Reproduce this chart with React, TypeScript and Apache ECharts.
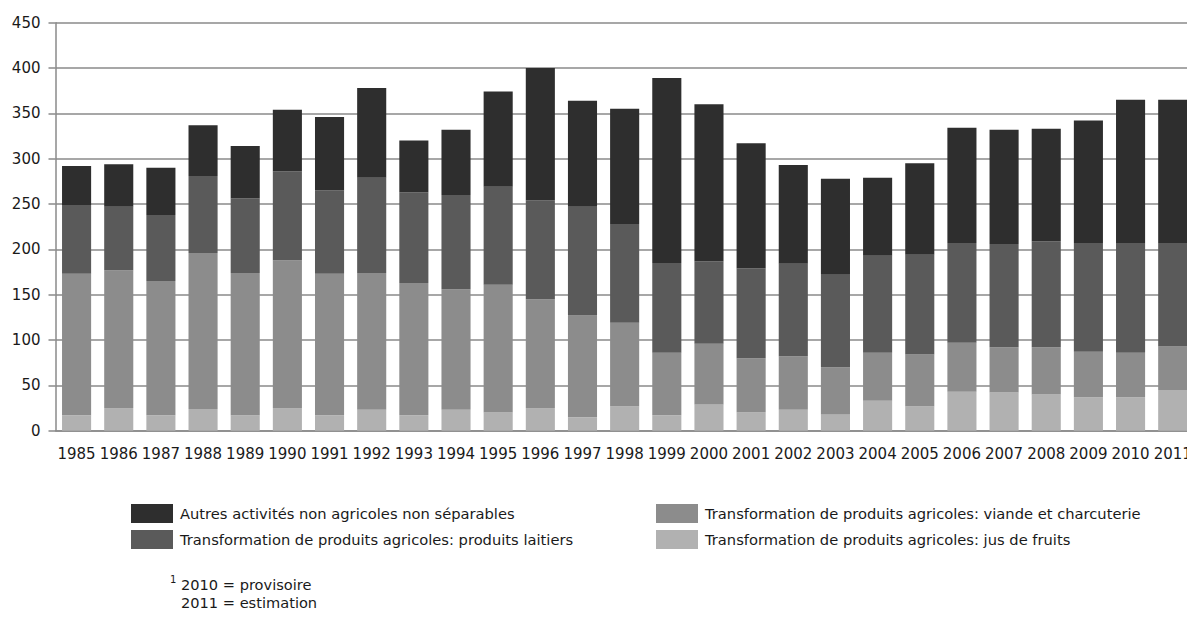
import React, { useEffect, useRef } from "react";
import * as echarts from "echarts";

const years = ["1985","1986","1987","1988","1989","1990","1991","1992","1993","1994","1995","1996","1997","1998","1999","2000","2001","2002","2003","2004","2005","2006","2007","2008","2009","2010","2011"];
const jusDeFruits = [17,25,17,24,17,25,17,23,17,23,20,25,15,27,17,29,20,23,18,33,27,43,42,40,37,37,45];
const viande = [156,152,148,172,157,163,156,151,146,133,141,120,112,92,69,67,60,59,52,53,57,54,50,52,50,49,48];
const laitiers = [76,70,73,85,82,98,92,105,100,104,108,109,120,109,99,91,99,102,102,107,110,110,114,117,120,121,114];
const autres = [43,47,52,56,58,68,81,99,57,72,105,146,117,127,204,173,138,109,106,86,101,127,126,124,135,158,158];

const nameAutres = "Autres activités non agricoles non séparables";
const nameLaitiers = "Transformation de produits agricoles: produits laitiers";
const nameViande = "Transformation de produits agricoles: viande et charcuterie";
const nameJus = "Transformation de produits agricoles: jus de fruits";

const FONT = "DejaVu Sans";

export default function App() {
  const ref = useRef<HTMLDivElement>(null);
  useEffect(() => {
    if (!ref.current) return;
    const chart = echarts.init(ref.current, null, { renderer: "svg" });
    const mk = (name: string, data: number[], color: string) => ({
      name,
      type: "bar",
      stack: "total",
      data,
      barCategoryGap: "31%",
      itemStyle: { color },
      emphasis: { disabled: true },
    });
    const legendBase = {
      top: 504,
      orient: "vertical",
      itemWidth: 42,
      itemHeight: 19,
      itemGap: 7,
      padding: 0,
      icon: "rect",
      selectedMode: false,
      textStyle: { color: "#1a1a1a", fontSize: 14.7, fontFamily: FONT, padding: [0, 0, 0, 2] },
    };
    chart.setOption({
      animation: false,
      textStyle: { fontFamily: FONT },
      grid: { left: 55.5, right: 6.2, top: 22.7, bottom: 186.3, containLabel: false },
      xAxis: {
        type: "category",
        data: years,
        axisLine: { show: true, lineStyle: { color: "#8a8a8a", width: 1.5 } },
        axisTick: { show: false },
        axisLabel: { color: "#1a1a1a", fontSize: 15, fontFamily: FONT, margin: 16, interval: 0 },
      },
      yAxis: {
        type: "value",
        min: 0,
        max: 450,
        interval: 50,
        axisLine: { show: true, lineStyle: { color: "#8a8a8a", width: 1.5 } },
        axisTick: { show: true, length: 7, lineStyle: { color: "#8a8a8a", width: 1.5 } },
        axisLabel: { color: "#1a1a1a", fontSize: 15, fontFamily: FONT, margin: 15 },
        splitLine: { show: true, lineStyle: { color: "#8a8a8a", width: 1.5 } },
      },
      legend: [
        { ...legendBase, left: 131, data: [nameAutres, nameLaitiers] },
        { ...legendBase, left: 656, data: [nameViande, nameJus] },
      ],
      graphic: [
        { type: "text", left: 170, top: 574, style: { text: "1", fontSize: 10, fontFamily: FONT, fill: "#1a1a1a" } },
        { type: "text", left: 181, top: 577, style: { text: "2010 = provisoire", fontSize: 14.6, fontFamily: FONT, fill: "#1a1a1a" } },
        { type: "text", left: 181, top: 595, style: { text: "2011 = estimation", fontSize: 14.6, fontFamily: FONT, fill: "#1a1a1a" } },
      ],
      series: [
        mk(nameJus, jusDeFruits, "#b1b1b1"),
        mk(nameViande, viande, "#8c8c8c"),
        mk(nameLaitiers, laitiers, "#5a5a5a"),
        mk(nameAutres, autres, "#2e2e2e"),
      ],
    });
    return () => chart.dispose();
  }, []);
  return (
    <div style={{ position: "fixed", left: 0, top: 0, width: "100vw", height: "100vh", overflow: "hidden", background: "#fff" }}>
      <div ref={ref} style={{ width: 1200, height: 617 }} />
    </div>
  );
}
